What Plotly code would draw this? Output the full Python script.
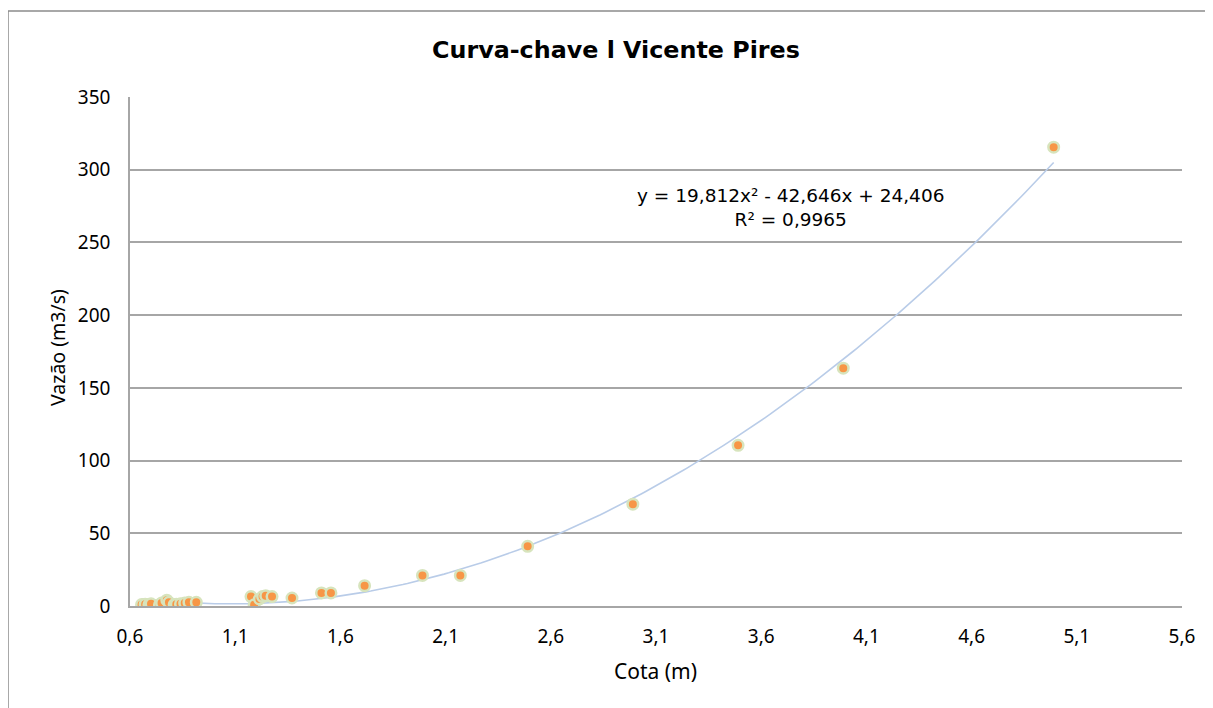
import numpy as np
import plotly.graph_objects as go

cota = [0.655, 0.672, 0.69, 0.70, 0.74, 0.75, 0.775, 0.785, 0.81, 0.82, 0.84, 0.86, 0.88, 0.915,
        1.175, 1.19, 1.215, 1.23, 1.245, 1.275, 1.37, 1.51, 1.555, 1.715,
        1.99, 2.17, 2.49, 2.99, 3.49, 3.99, 4.99]
vazao = [1.0, 1.2, 1.0, 1.5, 0.8, 2.0, 4.0, 2.5, 1.0, 1.2, 1.5, 2.0, 2.5, 2.5,
         6.5, 0.8, 4.8, 6.5, 7.0, 6.5, 5.5, 9.0, 9.0, 14.0,
         21.0, 21.0, 41.0, 70.0, 110.5, 163.5, 315.5]
coef = [19.812, -42.646, 24.406]
eq_text = "y = 19,812x² - 42,646x + 24,406<br>R² = 0,9965"
title_text = "Curva-chave l Vicente Pires"
x_title = "Cota (m)"
y_title = "Vazão (m3/s)"

xs = np.linspace(min(cota), max(cota), 200)
ys = np.polyval(coef, xs)

font = "Noto Sans"
W, H = 1213, 708
L, R, T, B = 122, 39, 89, 110
pw, ph = W - L - R, H - T - B
OFF = 8  # page offset of the plot in the screenshot


def px_x(sx):
    return (sx - OFF - L) / pw


def px_y(sy):
    return (T + ph - (sy - OFF)) / ph


fig = go.Figure()
fig.add_trace(go.Scatter(x=xs, y=ys, mode="lines",
                         line=dict(color="#B9CCE8", width=1.6), hoverinfo="skip"))
fig.add_trace(go.Scatter(x=cota, y=vazao, mode="markers",
                         marker=dict(size=10.5, color="#F79646",
                                     line=dict(color="#D7E4BD", width=2.5))))

fig.update_layout(
    width=W, height=H,
    margin=dict(l=L, r=R, t=T, b=B),
    paper_bgcolor="white", plot_bgcolor="white",
    showlegend=False,
    separators=",.",
    font=dict(family=font, size=19, color="#000000"),
    xaxis=dict(range=[0.6, 5.6], tick0=0.6, dtick=0.5, tickformat=".1f",
               showgrid=False, zeroline=False,
               showline=True, linecolor="#A6A6A6", linewidth=2,
               ticks="outside", ticklen=12, tickcolor="rgba(0,0,0,0)"),
    yaxis=dict(range=[0, 350], dtick=50, showgrid=True, gridcolor="#A6A6A6", gridwidth=1.5,
               zeroline=False, showline=True, linecolor="#A6A6A6", linewidth=1.5,
               ticks="outside", ticklen=14, tickcolor="rgba(0,0,0,0)"),
)
fig.add_annotation(xref="paper", yref="paper", x=px_x(616), y=px_y(50),
                   text="<b>" + title_text + "</b>", showarrow=False,
                   font=dict(size=23.8, family="DejaVu Sans"), xanchor="center", yanchor="middle")
fig.add_annotation(xref="paper", yref="paper", x=px_x(655), y=px_y(671),
                   text=x_title, showarrow=False,
                   font=dict(size=21, family=font), xanchor="center", yanchor="middle")
fig.add_annotation(xref="paper", yref="paper", x=px_x(57), y=px_y(348),
                   text=y_title, showarrow=False, textangle=-90,
                   font=dict(size=19.5, family=font), xanchor="center", yanchor="middle")
fig.add_annotation(x=3.737, y=274, text=eq_text, showarrow=False,
                   font=dict(size=18.5, family="DejaVu Sans"), align="center")
fig.add_shape(type="rect", xref="paper", yref="paper",
              x0=(0 - L) / pw, x1=(W + 20 - L) / pw,
              y0=(T + ph - (H + 20)) / ph, y1=(T + ph - 3) / ph,
              line=dict(color="#8C8C8C", width=1.5), layer="below")
fig.write_html("out.html")
